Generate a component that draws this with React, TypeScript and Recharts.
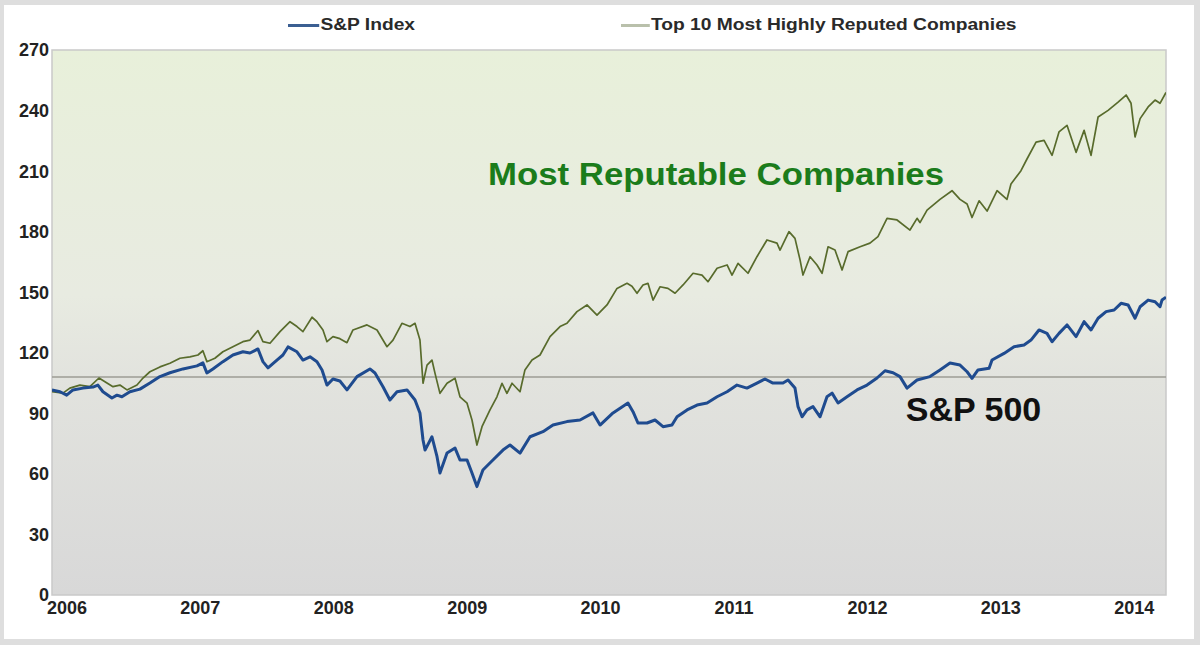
import React from 'react';
import {
  LineChart,
  Line,
  XAxis,
  YAxis,
  CartesianGrid,
  ReferenceLine,
  ReferenceArea,
  ReferenceDot,
  Legend,
} from 'recharts';

// ---- Data (x = year position on the axis, y = index level) ----
const seriesNames = ['S&P Index', 'Top 10 Most Highly Reputed Companies'];

const spYears = [
  2005.888, 2005.948, 2005.998, 2006.045, 2006.12, 2006.195, 2006.232, 2006.27, 2006.337, 2006.375,
  2006.412, 2006.472, 2006.547, 2006.622, 2006.697, 2006.772, 2006.87, 2006.975, 2007.019, 2007.049,
  2007.094, 2007.169, 2007.244, 2007.319, 2007.372, 2007.432, 2007.469, 2007.507, 2007.574, 2007.619,
  2007.657, 2007.724, 2007.769, 2007.822, 2007.874, 2007.912, 2007.949, 2007.994, 2008.046, 2008.099,
  2008.174, 2008.271, 2008.309, 2008.369, 2008.421, 2008.474, 2008.549, 2008.609, 2008.646, 2008.669,
  2008.684, 2008.736, 2008.774, 2008.796, 2008.849, 2008.909, 2008.946, 2008.999, 2009.036, 2009.073,
  2009.118, 2009.193, 2009.268, 2009.321, 2009.396, 2009.471, 2009.568, 2009.643, 2009.748, 2009.846,
  2009.943, 2009.996, 2010.093, 2010.205, 2010.243, 2010.28, 2010.348, 2010.408, 2010.468, 2010.535,
  2010.573, 2010.648, 2010.723, 2010.798, 2010.873, 2010.948, 2011.022, 2011.097, 2011.172, 2011.232,
  2011.292, 2011.367, 2011.405, 2011.457, 2011.48, 2011.51, 2011.547, 2011.592, 2011.645, 2011.697,
  2011.735, 2011.78, 2011.847, 2011.922, 2011.997, 2012.072, 2012.132, 2012.192, 2012.244, 2012.297,
  2012.372, 2012.469, 2012.544, 2012.619, 2012.694, 2012.747, 2012.784, 2012.829, 2012.912, 2012.934,
  2013.024, 2013.099, 2013.174, 2013.226, 2013.286, 2013.346, 2013.384, 2013.436, 2013.496, 2013.564,
  2013.624, 2013.676, 2013.729, 2013.789, 2013.849, 2013.901, 2013.954, 2014.006, 2014.044, 2014.104,
  2014.156, 2014.193, 2014.208, 2014.238,
];
const spValues = [
  101.6, 100.7, 99.0, 101.6, 102.5, 103.0, 104.0, 100.7, 97.6, 99.0,
  98.2, 100.7, 102.0, 105.0, 108.2, 110.1, 112.0, 113.5, 115.0, 110.0,
  112.0, 115.6, 118.9, 120.5, 119.9, 121.9, 115.6, 112.5, 116.4, 118.9,
  122.9, 120.5, 116.4, 118.0, 115.6, 111.5, 104.0, 107.0, 106.0, 101.6,
  108.2, 112.0, 110.0, 103.2, 96.6, 100.7, 101.6, 96.6, 90.2, 76.8,
  71.8, 78.4, 68.5, 60.4, 70.3, 72.8, 66.9, 66.9, 60.4, 53.7,
  61.9, 66.9, 71.8, 74.3, 70.3, 78.4, 80.9, 84.2, 85.9, 86.7,
  90.2, 84.2, 90.2, 95.1, 90.8, 85.2, 85.2, 86.7, 83.4, 84.2,
  88.3, 91.7, 94.1, 95.1, 98.2, 100.7, 104.0, 102.5, 105.0, 107.0,
  105.0, 105.0, 106.5, 102.5, 93.3, 88.3, 91.7, 93.3, 88.3, 98.2,
  100.0, 95.1, 98.2, 101.6, 104.0, 107.5, 111.1, 110.1, 108.2, 102.5,
  106.5, 108.2, 111.5, 114.9, 113.9, 110.6, 107.3, 111.5, 112.3, 116.4,
  119.7, 123.0, 123.9, 126.3, 131.3, 129.6, 125.5, 129.6, 133.8, 128.0,
  135.4, 131.3, 137.1, 140.4, 141.2, 144.5, 143.7, 137.1, 142.8, 146.1,
  145.3, 142.8, 146.1, 147.5,
];

const topYears = [
  2005.888, 2005.97, 2006.022, 2006.097, 2006.172, 2006.24, 2006.3, 2006.345, 2006.397, 2006.45,
  2006.525, 2006.57, 2006.622, 2006.697, 2006.772, 2006.847, 2006.922, 2006.982, 2007.019, 2007.049,
  2007.109, 2007.169, 2007.244, 2007.319, 2007.372, 2007.432, 2007.469, 2007.522, 2007.597, 2007.672,
  2007.724, 2007.769, 2007.837, 2007.874, 2007.919, 2007.949, 2007.994, 2008.046, 2008.099, 2008.144,
  2008.249, 2008.324, 2008.399, 2008.444, 2008.511, 2008.571, 2008.609, 2008.646, 2008.669, 2008.699,
  2008.736, 2008.759, 2008.796, 2008.849, 2008.909, 2008.946, 2008.999, 2009.036, 2009.073, 2009.111,
  2009.171, 2009.223, 2009.261, 2009.298, 2009.336, 2009.396, 2009.433, 2009.486, 2009.546, 2009.621,
  2009.696, 2009.748, 2009.823, 2009.898, 2009.973, 2010.048, 2010.123, 2010.198, 2010.235, 2010.273,
  2010.318, 2010.355, 2010.393, 2010.445, 2010.505, 2010.558, 2010.618, 2010.693, 2010.76, 2010.805,
  2010.873, 2010.948, 2010.985, 2011.03, 2011.105, 2011.172, 2011.247, 2011.322, 2011.345, 2011.412,
  2011.457, 2011.495, 2011.517, 2011.57, 2011.622, 2011.66, 2011.705, 2011.757, 2011.81, 2011.855,
  2011.945, 2012.019, 2012.079, 2012.147, 2012.222, 2012.319, 2012.372, 2012.394, 2012.447, 2012.544,
  2012.634, 2012.694, 2012.747, 2012.784, 2012.837, 2012.897, 2012.972, 2013.046, 2013.076, 2013.151,
  2013.196, 2013.264, 2013.324, 2013.384, 2013.436, 2013.496, 2013.564, 2013.624, 2013.676, 2013.729,
  2013.804, 2013.879, 2013.939, 2013.976, 2014.006, 2014.044, 2014.104, 2014.156, 2014.193, 2014.238,
];
const topValues = [
  100.7, 100.0, 102.5, 104.0, 103.2, 107.5, 105.0, 103.2, 104.0, 101.6,
  104.0, 107.5, 110.6, 113.0, 114.8, 117.3, 118.0, 118.9, 121.0, 115.6,
  117.3, 120.5, 123.0, 125.5, 126.3, 131.0, 125.5, 124.7, 130.5, 135.4,
  133.0, 130.5, 137.6, 135.4, 131.3, 125.5, 128.0, 127.0, 125.0, 131.3,
  133.8, 131.3, 123.0, 126.3, 134.6, 133.0, 134.6, 126.3, 104.9, 113.9,
  116.4, 109.8, 99.9, 104.9, 107.4, 98.2, 95.0, 86.7, 74.3, 83.4,
  91.7, 98.2, 104.9, 99.9, 104.9, 100.7, 111.5, 116.4, 118.9, 128.0,
  133.0, 134.6, 140.4, 143.7, 138.7, 143.7, 151.9, 154.4, 153.0, 149.5,
  153.6, 154.4, 146.1, 152.7, 151.9, 149.5, 153.6, 159.4, 158.5, 155.2,
  161.9, 163.5, 158.5, 164.3, 159.4, 167.6, 175.9, 174.3, 170.9, 180.0,
  176.7, 166.0, 158.5, 167.6, 163.5, 159.4, 172.5, 170.9, 161.0, 170.1,
  172.5, 174.3, 177.5, 186.6, 185.8, 180.8, 186.6, 184.5, 190.7, 196.0,
  200.3, 196.0, 193.7, 187.0, 195.3, 190.2, 200.3, 196.0, 203.6, 210.2,
  216.0, 224.4, 225.2, 217.8, 229.4, 232.7, 219.3, 230.2, 217.8, 236.8,
  240.1, 244.2, 247.7, 243.6, 226.9, 236.0, 241.8, 245.2, 243.6, 249.0,
];

const yTicks = [0, 30, 60, 90, 120, 150, 180, 210, 240, 270];
const xTicks = [2006, 2007, 2008, 2009, 2010, 2011, 2012, 2013, 2014];
const baselineValue = 108;
const annotationLabels = ['Most Reputable Companies', 'S&P 500'];

const spData = spYears.map((t, i) => ({ t, v: spValues[i] }));
const topData = topYears.map((t, i) => ({ t, v: topValues[i] }));

// ---- Styles ----
const FONT = '"Liberation Sans", Arial, Helvetica, sans-serif';
const BLUE = '#1f4b8f';
const OLIVE = '#586b2c';
const X_DOMAIN: [number, number] = [2005.888, 2014.238];

const legendItemStyle: React.CSSProperties = {
  position: 'absolute',
  top: 0,
  height: 20,
  display: 'flex',
  alignItems: 'center',
  whiteSpace: 'nowrap',
  transform: 'scaleX(1.2)',
  transformOrigin: 'left center',
};

const renderLegend = () => (
  <div
    style={{
      position: 'relative',
      height: 20,
      fontFamily: FONT,
      fontWeight: 'bold',
      fontSize: 16,
      color: '#2a2a2a',
    }}
  >
    <div style={{ ...legendItemStyle, left: 284 }}>
      <span style={{ display: 'inline-block', width: 26, height: 3, background: '#3b5f92', marginRight: 1 }} />
      <span>{seriesNames[0]}</span>
    </div>
    <div style={{ ...legendItemStyle, left: 617 }}>
      <span style={{ display: 'inline-block', width: 24, height: 3, background: '#b9c0ab', marginRight: 1 }} />
      <span>{seriesNames[1]}</span>
    </div>
  </div>
);

const tickStyle = { fontFamily: FONT, fontWeight: 'bold' as const, fontSize: 18, fill: '#222' };

export default function App() {
  return (
    <div
      style={{
        position: 'absolute',
        left: 0,
        top: 0,
        width: 1200,
        height: 645,
        background: '#dedede',
      }}
    >
      <div
        style={{
          position: 'absolute',
          left: 4,
          top: 5,
          width: 1190,
          height: 634,
          background: '#ffffff',
        }}
      >
        <LineChart
          width={1190}
          height={634}
          margin={{ top: 45, right: 28, left: 2, bottom: 0 }}
        >
          <defs>
            <linearGradient id="plotBg" x1="0" y1="0" x2="0" y2="1">
              <stop offset="0%" stopColor="#e8f0da" />
              <stop offset="45%" stopColor="#e8ebe1" />
              <stop offset="60%" stopColor="#e2e3de" />
              <stop offset="100%" stopColor="#d8d8d8" />
            </linearGradient>
          </defs>
          <CartesianGrid horizontal={false} vertical={false} fill="url(#plotBg)" stroke="none" />
          <XAxis
            type="number"
            dataKey="t"
            domain={X_DOMAIN}
            ticks={xTicks}
            interval={0}
            allowDataOverflow
            height={44}
            axisLine={false}
            tickLine={false}
            tickSize={0}
            tickMargin={6}
            tick={tickStyle}
          />
          <YAxis
            type="number"
            domain={[0, 270]}
            ticks={yTicks}
            interval={0}
            width={46}
            axisLine={false}
            tickLine={false}
            tickSize={0}
            tickMargin={3}
            tick={tickStyle}
          />
          <ReferenceArea
            x1={X_DOMAIN[0]}
            x2={X_DOMAIN[1]}
            y1={0}
            y2={270}
            fill="none"
            stroke="#c9c9c9"
            strokeWidth={1.5}
          />
          <ReferenceLine y={baselineValue} stroke="#9c9c94" strokeWidth={1.6} />
          <Legend
            verticalAlign="middle"
            align="center"
            layout="horizontal"
            content={renderLegend}
            wrapperStyle={{ top: 10, left: 0, width: 1190, height: 20 }}
          />
          <Line
            data={topData}
            dataKey="v"
            name={seriesNames[1]}
            stroke={OLIVE}
            strokeWidth={1.7}
            dot={false}
            activeDot={false}
            strokeLinejoin="round"
            isAnimationActive={false}
          />
          <Line
            data={spData}
            dataKey="v"
            name={seriesNames[0]}
            stroke={BLUE}
            strokeWidth={3}
            dot={false}
            activeDot={false}
            strokeLinejoin="round"
            isAnimationActive={false}
          />
          <ReferenceDot
            x={2010.865}
            y={203.1}
            r={0}
            ifOverflow="visible"
            shape={(p: any) => (
              <text
                x={p.cx}
                y={p.cy}
                textAnchor="middle"
                fontFamily={FONT}
                fontWeight="bold"
                fontSize={31}
                fill="#1b7c1b"
                textLength={456}
                lengthAdjust="spacingAndGlyphs"
              >
                {annotationLabels[0]}
              </text>
            )}
          />
          <ReferenceDot
            x={2012.795}
            y={86.2}
            r={0}
            ifOverflow="visible"
            shape={(p: any) => (
              <text
                x={p.cx}
                y={p.cy}
                textAnchor="middle"
                fontFamily={FONT}
                fontWeight="bold"
                fontSize={34}
                fill="#111"
              >
                {annotationLabels[1]}
              </text>
            )}
          />
        </LineChart>
      </div>
    </div>
  );
}
